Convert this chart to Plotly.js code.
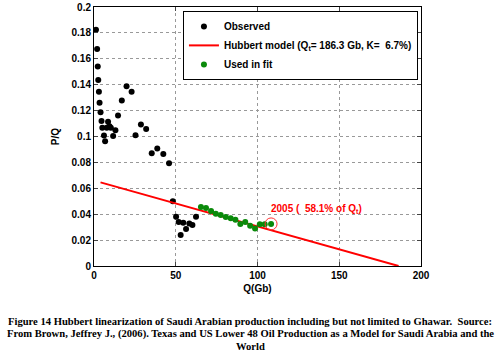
<!DOCTYPE html>
<html><head><meta charset="utf-8">
<script src="https://cdn.plot.ly/plotly-3.0.1.min.js"></script>
<style>html,body{margin:0;padding:0;background:#fff}#plot{width:500px;height:352px}</style>
</head><body><div id="plot"></div>
<script>
// Observed (black) points
var obsQ = [1.2, 1.9, 2.3, 2.6, 3.0, 3.4, 4.0, 4.6, 5.1, 6.1, 6.8, 7.8, 8.6, 9.5, 10.3, 11.7, 13.1, 14.7, 17.0, 19.9, 23.0, 25.4, 28.7, 31.9, 35.3, 38.7, 42.4, 45.9, 48.2, 50.2, 51.8, 53.0, 54.6, 56.3, 58.3, 60.2, 62.4];
var obsP = [0.1825, 0.1676, 0.154, 0.1437, 0.1345, 0.126, 0.1188, 0.112, 0.1068, 0.1008, 0.0963, 0.1068, 0.1114, 0.108, 0.1068, 0.1003, 0.1049, 0.1163, 0.1278, 0.1388, 0.1345, 0.101, 0.1093, 0.1057, 0.087, 0.0908, 0.0865, 0.0793, 0.0500, 0.0380, 0.0340, 0.0240, 0.0334, 0.0286, 0.0328, 0.0316, 0.0380];
// Points used in fit (green)
var fitQ = [65.4, 68.5, 71.6, 74.5, 77.5, 80.6, 83.6, 86.5, 89.5, 92.5, 95.5, 98.5, 101.4, 104.4, 108.3];
var fitP = [0.0455, 0.0448, 0.0425, 0.0404, 0.0393, 0.0378, 0.0369, 0.0358, 0.0325, 0.0339, 0.0310, 0.0290, 0.0323, 0.0323, 0.0325];
// Hubbert model line endpoints (Qt = 186.3 Gb, K = 6.7%)
var modelQ = [4.0, 186.3];
var modelP = [0.0646, 0.0];
var xTicks = [0, 50, 100, 150, 200];
var yTicks = [0, 0.02, 0.04, 0.06, 0.08, 0.1, 0.12, 0.14, 0.16, 0.18, 0.2];
var yTickText = ['0', '0.02', '0.04', '0.06', '0.08', '0.1', '0.12', '0.14', '0.16', '0.18', '0.2'];
var caption = [
  'Figure 14 Hubbert linearization of Saudi Arabian production including but not limited to Ghawar.  Source:',
  'From Brown, Jeffrey J., (2006). Texas and US Lower 48 Oil Production as a Model for Saudi Arabia and the',
  'World'
];

var bold = {family: 'Arial, Liberation Sans, sans-serif', size: 10, color: '#000', weight: 'bold'};

var traces = [
  {x: obsQ, y: obsP, mode: 'markers', type: 'scatter', name: '<b>Observed</b>',
   marker: {color: '#000', size: 6}},
  {x: modelQ, y: modelP, mode: 'lines', type: 'scatter', name: '<b>Hubbert model (Q<sub>t</sub>= 186.3 Gb, K=  6.7%)</b>',
   line: {color: '#ff0000', width: 2}},
  {x: fitQ, y: fitP, mode: 'markers', type: 'scatter', name: '<b>Used in fit</b>',
   marker: {color: '#0a8a0a', size: 6}},
  {x: [fitQ[fitQ.length-1]], y: [fitP[fitP.length-1]], mode: 'markers', type: 'scatter', showlegend: false,
   marker: {symbol: 'circle-open', color: '#ff3333', size: 12, line: {width: 1}}}
];

var capAnn = caption.map(function(t, i){
  return {text: '<b>' + t + '</b>', xref: 'paper', yref: 'paper', x: (250 - 94) / 327, xanchor: 'center',
    y: (266 - [321, 334, 346][i]) / 259, yanchor: 'middle', showarrow: false,
    font: {family: 'Liberation Serif, Times New Roman, serif', size: 10.6, color: '#000', weight: 'bold'}};
});

var layout = {
  width: 500, height: 352,
  margin: {l: 94, r: 79, t: 7, b: 86},
  paper_bgcolor: '#fff', plot_bgcolor: '#fff',
  showlegend: true,
  legend: {x: 0.272, y: 0.985, xanchor: 'left', yanchor: 'top', bgcolor: '#fff',
    bordercolor: '#000', borderwidth: 1, font: bold, tracegroupgap: 0},
  xaxis: {range: [0, 200], tickvals: xTicks, ticks: 'inside', ticklen: 4, mirror: 'ticks',
    showline: true, linecolor: '#000', linewidth: 1, showgrid: true, gridcolor: '#999', griddash: 'dot',
    zeroline: false, tickfont: bold,
    title: {text: '<b>Q(Gb)</b>', font: bold, standoff: 4}},
  yaxis: {range: [0, 0.2], tickvals: yTicks, ticktext: yTickText, ticks: 'inside', ticklen: 4, mirror: 'ticks',
    showline: true, linecolor: '#000', linewidth: 1, showgrid: true, gridcolor: '#999', griddash: 'dot',
    zeroline: false, tickfont: bold,
    title: {text: '<b>P/Q</b>', font: bold, standoff: 10}},
  annotations: [
    {text: '<b>2005 (  58.1% of Q<sub>t</sub>)</b>', x: fitQ[fitQ.length-1], y: fitP[fitP.length-1],
     xref: 'x', yref: 'y', xanchor: 'left', yanchor: 'bottom', xshift: -2, yshift: 7, showarrow: false,
     font: {family: 'Arial, Liberation Sans, sans-serif', size: 10, color: '#ff0000', weight: 'bold'}}
  ].concat(capAnn)
};

Plotly.newPlot('plot', traces, layout, {displayModeBar: false, staticPlot: true});
</script></body></html>
